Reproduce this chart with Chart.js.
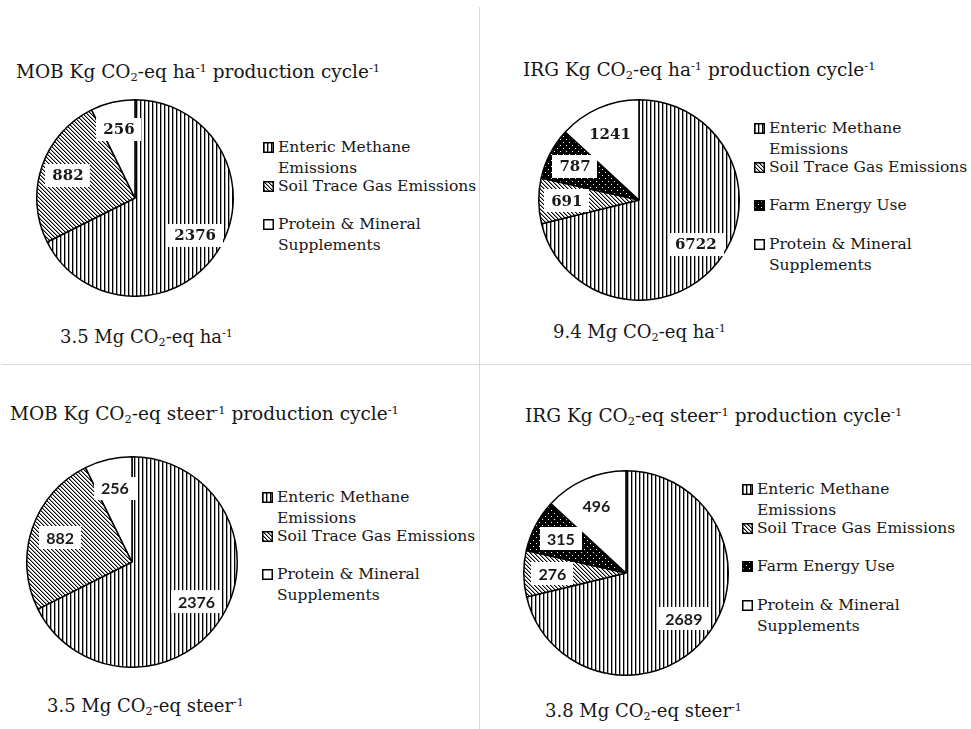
<!DOCTYPE html>
<html>
<head>
<meta charset="utf-8">
<script src="https://cdn.jsdelivr.net/npm/chart.js@4.4.1/dist/chart.umd.min.js"></script>
<style>
  html, body { margin: 0; padding: 0; background: #fff; }
  #page { position: relative; width: 971px; height: 729px; overflow: hidden; color: #161616; font-family: "DejaVu Serif", serif; }
  .vline { position: absolute; left: 479px; top: 7px; width: 1px; height: 722px; background: #d9d9d9; }
  .hline { position: absolute; left: 2px; top: 364px; width: 969px; height: 1px; background: #d9d9d9; }
  .title, .total { position: absolute; white-space: nowrap; font-size: 18px; line-height: 18px; }
  .title { font-size: 18.5px; }
  sup { font-size: 0.62em; vertical-align: 0.55em; line-height: 0; }
  sub { font-size: 0.62em; vertical-align: -0.3em; line-height: 0; }
  .legend { position: absolute; font-size: 15.5px; line-height: 21px; }
  .item { position: absolute; left: 0; white-space: nowrap; }
  .item canvas { position: absolute; left: -15px; top: 5px; }
  .pie { position: absolute; }
</style>
</head>
<body>
<div id="page">
  <div class="vline"></div>
  <div class="hline"></div>
</div>
<script>
// categories
const mobCategories = [['Enteric Methane', 'Emissions'], ['Soil Trace Gas Emissions'], ['Protein & Mineral', 'Supplements']];
const irgCategories = [['Enteric Methane', 'Emissions'], ['Soil Trace Gas Emissions'], ['Farm Energy Use'], ['Protein & Mineral', 'Supplements']];

// Kg CO2-eq per ha per production cycle
const mobHa = [2376, 882, 256];
const irgHa = [6722, 691, 787, 1241];

// Kg CO2-eq per steer per production cycle
const mobSteer = [2376, 882, 256];
const irgSteer = [2689, 276, 315, 496];

// fill patterns
function makePattern(kind) {
    const c = document.createElement('canvas');
    const g = c.getContext('2d');
    if (kind === 'vstripe') {
        c.width = 4; c.height = 4;
        g.fillStyle = '#fff'; g.fillRect(0, 0, 4, 4);
        g.fillStyle = '#000'; g.fillRect(0, 0, 1, 4);
        g.fillStyle = '#aaa'; g.fillRect(1, 0, 1, 4);
    } else if (kind === 'diag') {
        c.width = 4; c.height = 4;
        g.fillStyle = '#fff'; g.fillRect(0, 0, 4, 4);
        for (let i = 0; i < 4; i++) {
            g.fillStyle = '#000'; g.fillRect(i, i, 1, 1);
            g.fillStyle = '#999'; g.fillRect((i + 1) % 4, i, 1, 1);
        }
    } else if (kind === 'dots') {
        c.width = 6; c.height = 6;
        g.fillStyle = '#000'; g.fillRect(0, 0, 6, 6);
        g.fillStyle = '#fff'; g.fillRect(1, 1, 1, 1); g.fillRect(4, 4, 1, 1);
    } else {
        c.width = 2; c.height = 2;
        g.fillStyle = '#fff'; g.fillRect(0, 0, 2, 2);
    }
    return g.createPattern(c, 'repeat');
}

const mobFills = ['vstripe', 'diag', 'white'];
const irgFills = ['vstripe', 'diag', 'dots', 'white'];

// white boxed value labels on the slices
const valueLabels = {
    id: 'valueLabels',
    afterDatasetsDraw(chart, args, opts) {
        const ctx = chart.ctx;
        const meta = chart.getDatasetMeta(0);
        const values = chart.data.datasets[0].data;
        ctx.save();
        ctx.font = opts.font;
        ctx.textAlign = 'center';
        ctx.textBaseline = 'middle';
        meta.data.forEach((arc, i) => {
            const p = arc.getProps(['x', 'y', 'startAngle', 'endAngle', 'outerRadius'], true);
            const mid = (p.startAngle + p.endAngle) / 2;
            const r = p.outerRadius * opts.ratio;
            const x = p.x + Math.cos(mid) * r;
            const y = p.y + Math.sin(mid) * r;
            const text = String(values[i]);
            const w = ctx.measureText(text).width + 14;
            const h = 23;
            ctx.fillStyle = '#fff';
            ctx.fillRect(Math.round(x - w / 2), Math.round(y - h / 2), Math.round(w), h);
            ctx.fillStyle = '#1a1a1a';
            ctx.fillText(text, x, y + 1);
        });
        ctx.restore();
    }
};

const panels = [
    { title: 'MOB Kg CO<sub>2</sub>-eq ha<sup>-1</sup> production cycle<sup>-1</sup>', tx: 16, ty: 78,
      total: '3.5 Mg CO<sub>2</sub>-eq ha<sup>-1</sup>', sx: 60, sy: 343,
      cx: 135, cy: 198, r: 98, lx: 278, ly: 147, cats: mobCategories, values: mobHa, fills: mobFills,
      font: 'bold 15px "DejaVu Serif"' },
    { title: 'IRG Kg CO<sub>2</sub>-eq ha<sup>-1</sup> production cycle<sup>-1</sup>', tx: 523, ty: 76,
      total: '9.4 Mg CO<sub>2</sub>-eq ha<sup>-1</sup>', sx: 553, sy: 338,
      cx: 639, cy: 200, r: 100, lx: 769, ly: 128, cats: irgCategories, values: irgHa, fills: irgFills,
      font: 'bold 15px "DejaVu Serif"' },
    { title: 'MOB Kg CO<sub>2</sub>-eq steer<sup>-1</sup> production cycle<sup>-1</sup>', tx: 10, ty: 420,
      total: '3.5 Mg CO<sub>2</sub>-eq steer<sup>-1</sup>', sx: 47, sy: 712,
      cx: 132, cy: 562, r: 105, lx: 277, ly: 497, cats: mobCategories, values: mobSteer, fills: mobFills,
      font: 'bold 16px Lato' },
    { title: 'IRG Kg CO<sub>2</sub>-eq steer<sup>-1</sup> production cycle<sup>-1</sup>', tx: 525, ty: 422,
      total: '3.8 Mg CO<sub>2</sub>-eq steer<sup>-1</sup>', sx: 545, sy: 717,
      cx: 626, cy: 573, r: 102, lx: 757, ly: 489, cats: irgCategories, values: irgSteer, fills: irgFills,
      font: 'bold 16px Lato' }
];

const page = document.getElementById('page');

function addText(cls, html, x, baseline) {
    const d = document.createElement('div');
    d.className = cls;
    d.innerHTML = html;
    d.style.left = x + 'px';
    d.style.top = (baseline - 15) + 'px';
    page.appendChild(d);
}

function swatch(kind) {
    const c = document.createElement('canvas');
    c.width = 11; c.height = 11;
    const g = c.getContext('2d');
    g.fillStyle = makePattern(kind);
    g.fillRect(0, 0, 11, 11);
    g.strokeStyle = '#000';
    g.lineWidth = 1.5;
    g.strokeRect(0.75, 0.75, 9.5, 9.5);
    return c;
}

panels.forEach(p => {
    addText('title', p.title, p.tx, p.ty);
    addText('total', p.total, p.sx, p.sy);

    // legend
    const lg = document.createElement('div');
    lg.className = 'legend';
    lg.style.left = p.lx + 'px';
    lg.style.top = (p.ly - 10) + 'px';
    p.cats.forEach((lines, i) => {
        const it = document.createElement('div');
        it.className = 'item';
        it.style.top = (i * 38.7) + 'px';
        it.appendChild(swatch(p.fills[i]));
        const t = document.createElement('div');
        t.innerHTML = lines.map(s => s.replace('&', '&amp;')).join('<br>');
        it.appendChild(t);
        lg.appendChild(it);
    });
    page.appendChild(lg);

    // pie
    const size = 2 * p.r + 2;
    const cv = document.createElement('canvas');
    cv.className = 'pie';
    cv.width = size; cv.height = size;
    cv.style.left = (p.cx - size / 2) + 'px';
    cv.style.top = (p.cy - size / 2) + 'px';
    page.appendChild(cv);

    new Chart(cv, {
        type: 'pie',
        data: {
            labels: p.cats.map(l => l.join(' ')),
            datasets: [{
                data: p.values,
                backgroundColor: p.fills.map(makePattern),
                borderColor: '#000',
                borderWidth: 1.5
            }]
        },
        options: {
            responsive: false,
            animation: false,
            layout: { padding: 0 },
            plugins: {
                legend: { display: false },
                tooltip: { enabled: false },
                valueLabels: { font: p.font, ratio: 0.72 }
            }
        },
        plugins: [valueLabels]
    });
});
</script>
</body>
</html>
